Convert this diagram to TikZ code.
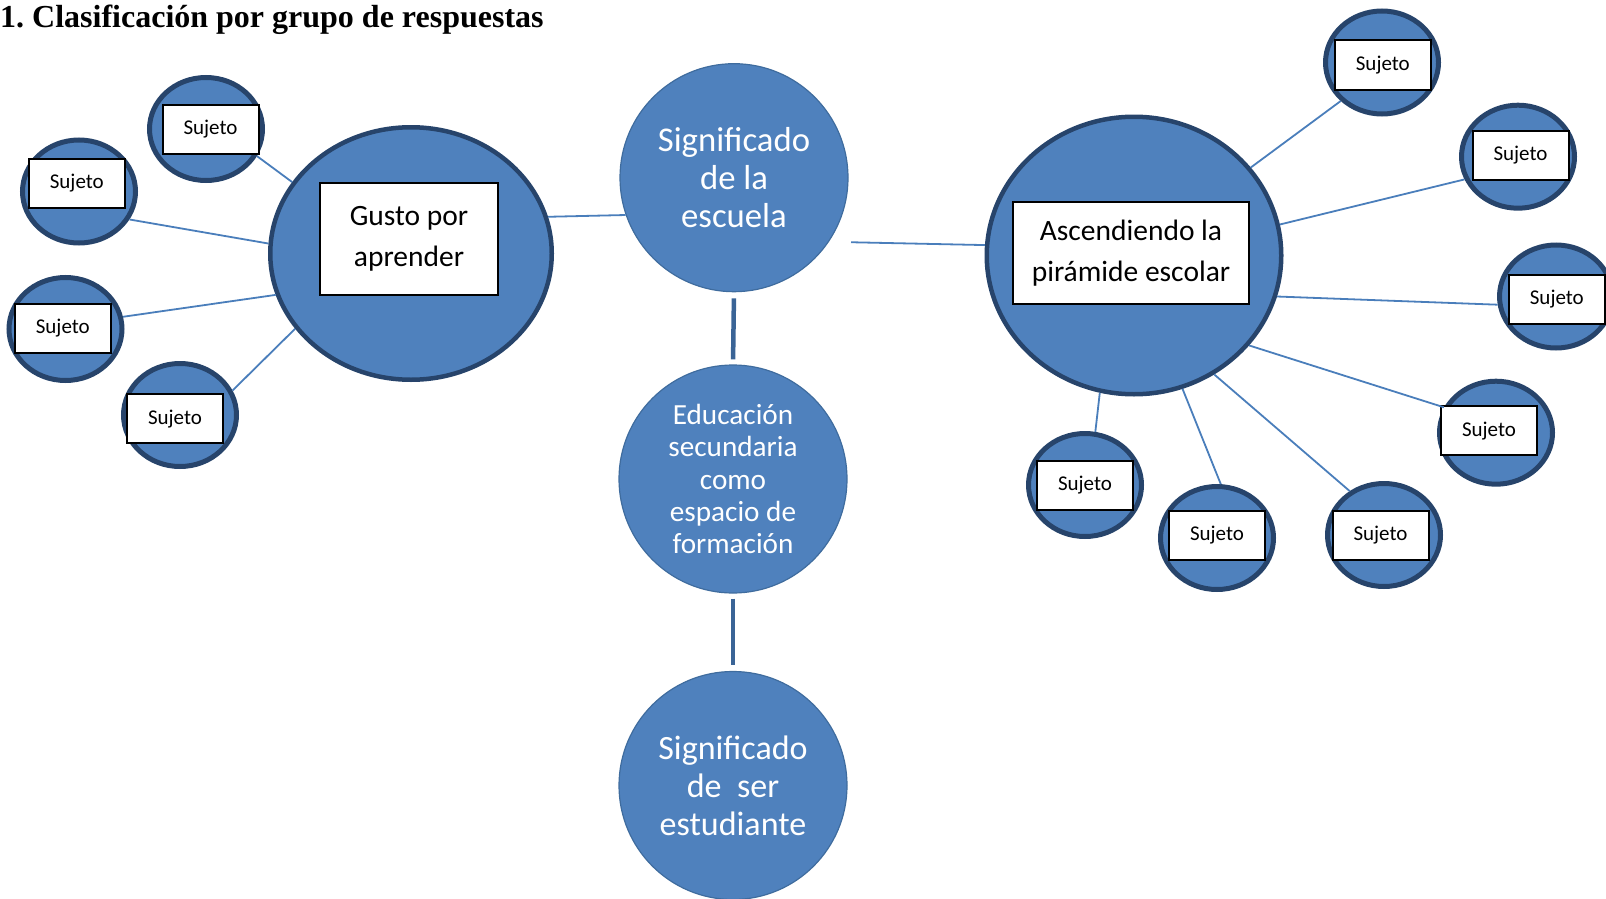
\documentclass[tikz,border=0pt]{standalone}
\usepackage{fontspec}
\setmainfont{Carlito}
\newfontfamily\titlefont{Liberation Serif}
\usetikzlibrary{shapes.geometric}
\definecolor{fillblue}{HTML}{4F81BD}
\definecolor{edgeblue}{HTML}{27446B}
\definecolor{ringblue}{HTML}{3F6C9E}
\definecolor{linkblue}{HTML}{4A7EBB}
\definecolor{stemblue}{HTML}{3A6496}
\frenchspacing
\begin{document}
\begin{tikzpicture}[x=1pt,y=-1pt,
  hub/.style={ellipse, draw=edgeblue, line width=4.5pt, fill=fillblue, inner sep=0pt},
  topic/.style={circle, draw=ringblue, line width=1.2pt, fill=fillblue, text=white, align=center, inner sep=0pt, minimum size=228pt},
  subj/.style={ellipse, draw=edgeblue, line width=5pt, fill=fillblue, minimum width=113pt, minimum height=103pt, inner sep=0pt},
  subjbox/.style={rectangle, draw=black, line width=2pt, fill=white, minimum width=96pt, minimum height=49pt, inner sep=0pt, font=\fontsize{21}{25}\selectfont},
  labelbox/.style={rectangle, draw=black, line width=2pt, fill=white, align=center, inner sep=0pt, font=\fontsize{29.5}{41}\selectfont},
  link/.style={draw=linkblue, line width=1.8pt},
  stem/.style={draw=stemblue, line width=4.5pt},
]
\useasboundingbox (0,0) rectangle (1606,899);

\node[anchor=base west, inner sep=0pt, font=\titlefont\bfseries\fontsize{32}{36}\selectfont] (title) at (0,27.5) {1. Clasificación por grupo de respuestas};

% central column
\node[topic, font=\fontsize{34.7}{38}\selectfont] (sig) at (734,177.7) {Significado\\de la\\escuela};
\node[topic, font=\fontsize{29.2}{32.3}\selectfont] (edu) at (733,479) {Educación\\secundaria\\como\\espacio de\\formación};
\node[topic, font=\fontsize{34}{38}\selectfont] (ser) at (733,785.5) {Significado\\de\ \ ser\\estudiante};

% hubs
\node[hub, minimum width=281.5pt, minimum height=252.5pt] (gusto) at (411,253.5) {};
\node[labelbox, minimum width=178.5pt, minimum height=112pt] (gustobox) at (409,239) {Gusto por\\aprender};
\node[hub, minimum width=294.5pt, minimum height=277.5pt] (asc) at (1134,255.5) {};
\node[labelbox, minimum width=236.5pt, minimum height=102pt] (ascbox) at (1131,253) {Ascendiendo la\\pirámide escolar};

% left subjects
\node[subj] (l1) at (206,129) {};
\node[subjbox] (l1b) at (210.5,129) {Sujeto};
\node[subj] (l2) at (79,191.5) {};
\node[subjbox] (l2b) at (76.8,183.5) {Sujeto};
\node[subj] (l3) at (65.5,329) {};
\node[subjbox] (l3b) at (62.8,328.5) {Sujeto};
\node[subj] (l4) at (180,415) {};
\node[subjbox] (l4b) at (175,418.8) {Sujeto};

% right subjects
\node[subj] (r1) at (1382,62.5) {};
\node[subjbox] (r1b) at (1382.8,65) {Sujeto};
\node[subj] (r2) at (1518,156.7) {};
\node[subjbox] (r2b) at (1520.5,155.5) {Sujeto};
\node[subj] (r3) at (1556,296.5) {};
\node[subjbox] (r3b) at (1556.8,299) {Sujeto};
\node[subj] (r4) at (1496,432.7) {};
\node[subjbox] (r4b) at (1489,430.8) {Sujeto};
\node[subj] (r5) at (1384,535) {};
\node[subjbox] (r5b) at (1380.5,535) {Sujeto};
\node[subj] (r6) at (1217,538) {};
\node[subjbox] (r6b) at (1217,535.5) {Sujeto};
\node[subj] (r7) at (1085,485) {};
\node[subjbox] (r7b) at (1085,485.5) {Sujeto};

% connectors
\draw[link] (gusto.15) -- (sig.199);
\draw[link, shorten <=22pt] (sig.326) -- (asc.176);
\draw[stem, shorten <=6pt, shorten >=5pt] (sig.south) -- (edu.north);
\draw[stem, shorten <=5pt, shorten >=6pt] (edu.south) -- (ser.north);

\draw[link] (l1.332) -- (gusto.149);
\draw[link] (l2.331) -- (gusto.176);
\draw[link] (l3.12) -- (gusto.197);
\draw[link] (l4.25) -- (gusto.213);

\draw[link] (asc.37) -- (r1.223);
\draw[link] (asc.12) -- (r2.203);
\draw[link] (asc.344) -- (r3.188);
\draw[link] (asc.322) -- (r4.154);
\draw[link] (asc.304) -- (r5.128);
\draw[link] (asc.290) -- (r6.86);
\draw[link] (asc.256) -- (r7.79);
\end{tikzpicture}
\end{document}
